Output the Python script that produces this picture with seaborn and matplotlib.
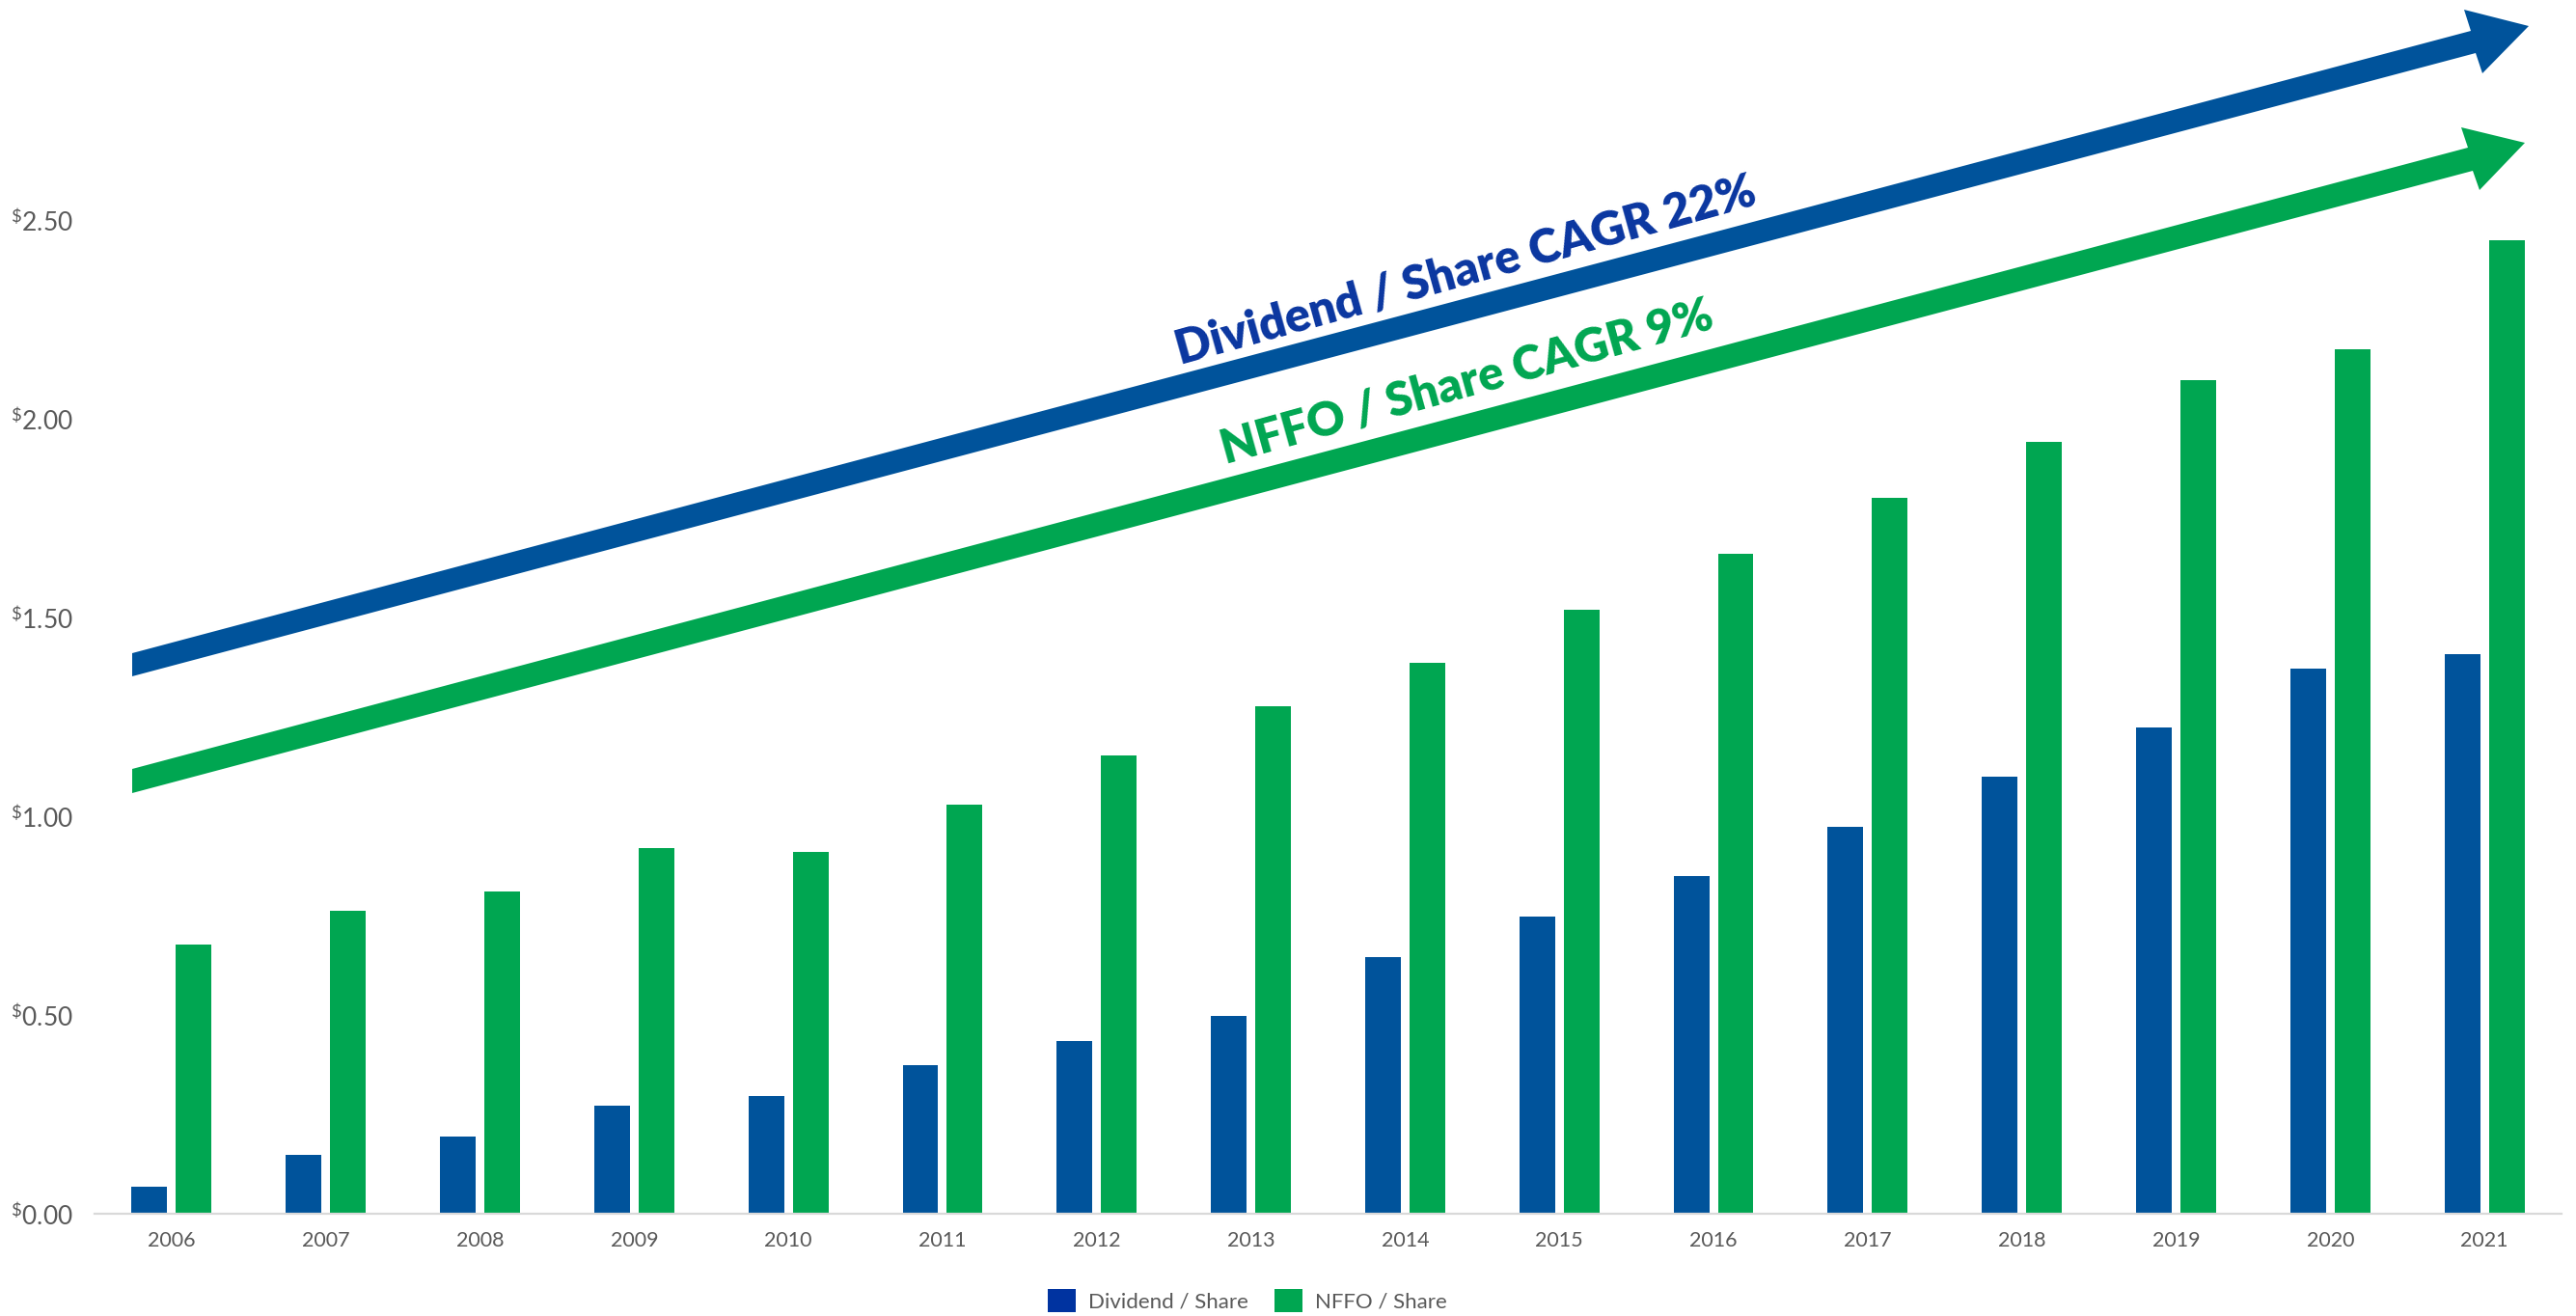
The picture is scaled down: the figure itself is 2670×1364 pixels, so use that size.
import matplotlib
matplotlib.use("Agg")
import matplotlib.pyplot as plt
import seaborn as sns
import pandas as pd
from matplotlib.patches import Polygon, Patch
from matplotlib.ticker import FuncFormatter, FixedLocator

# ---------------- data ----------------
years = ["2006", "2007", "2008", "2009", "2010", "2011", "2012", "2013",
         "2014", "2015", "2016", "2017", "2018", "2019", "2020", "2021"]
dividend_per_share = [0.068, 0.148, 0.194, 0.272, 0.296, 0.374, 0.434, 0.498,
                      0.646, 0.748, 0.850, 0.973, 1.100, 1.223, 1.371, 1.408]
nffo_per_share = [0.677, 0.762, 0.811, 0.920, 0.910, 1.029, 1.153, 1.277,
                  1.386, 1.519, 1.660, 1.801, 1.942, 2.097, 2.175, 2.449]
series_names = ["Dividend / Share", "NFFO / Share"]
y_ticks = [0.0, 0.5, 1.0, 1.5, 2.0, 2.5]
cagr_labels = ["Dividend / Share CAGR 22%", "NFFO / Share CAGR 9%"]

df = pd.DataFrame({
    "year": years * 2,
    "value": dividend_per_share + nffo_per_share,
    "series": [series_names[0]] * len(years) + [series_names[1]] * len(years),
})

# ---------------- style ----------------
BLUE = "#00539B"
GREEN = "#00A651"
DARK_BLUE = "#0A36A0"
GREY = "#595959"

sns.set_theme(style="white")
plt.rcParams["font.family"] = ["Lato", "DejaVu Sans"]
plt.rcParams["mathtext.default"] = "regular"

W, H = 2670, 1364
fig = plt.figure(figsize=(W / 100, H / 100), dpi=100)
ax = fig.add_axes([98 / W, 1 - 1258 / H, (2655 - 98) / W, 3.0 * 412 / H])

sns.barplot(data=df, x="year", y="value", hue="series", order=years,
            hue_order=series_names, palette=[BLUE, GREEN], saturation=1,
            width=0.575, gap=0.196, linewidth=0, errorbar=None, ax=ax,
            legend=False)

ax.set_xlim(-0.5, len(years) - 0.5)
ax.set_ylim(0, 3.0)
ax.set_xlabel("")
ax.set_ylabel("")
ax.yaxis.set_major_locator(FixedLocator(y_ticks))
ax.yaxis.set_major_formatter(FuncFormatter(lambda v, p: r"$^{\$}$" + f"{v:.2f}"))
ax.tick_params(axis="y", length=0, pad=16, labelsize=19, labelcolor=GREY)
ax.tick_params(axis="x", length=0, pad=13, labelsize=15.5, labelcolor=GREY)
for s in ["left", "right", "top"]:
    ax.spines[s].set_visible(False)
ax.spines["bottom"].set_color("#D9D9D9")
ax.spines["bottom"].set_linewidth(1.6)
ax.grid(False)

# ---------------- trend arrows (decoration, pixel geometry) ----------------
def px(points):
    return [(x / W, 1 - y / H) for x, y in points]

blue_arrow = [(137, 677), (2561, 32), (2554, 10), (2621, 27), (2573, 76),
              (2566, 55), (137, 701)]
green_arrow = [(137, 797), (2558, 153), (2551, 132), (2617, 148), (2570, 197),
               (2563, 177), (137, 822)]
fig.add_artist(Polygon(px(blue_arrow), closed=True, facecolor=BLUE,
                       edgecolor="none", transform=fig.transFigure, zorder=5))
fig.add_artist(Polygon(px(green_arrow), closed=True, facecolor=GREEN,
                       edgecolor="none", transform=fig.transFigure, zorder=5))

fig.text(1519 / W, 1 - 280 / H, cagr_labels[0], color=DARK_BLUE, fontsize=35,
         fontweight="heavy", rotation=15.5, rotation_mode="anchor",
         ha="center", va="center")
fig.text(1520 / W, 1 - 396 / H, cagr_labels[1], color=GREEN, fontsize=35,
         fontweight="heavy", rotation=15.5, rotation_mode="anchor",
         ha="center", va="center")

# ---------------- legend ----------------
handles = [Patch(facecolor="#0033A0", edgecolor="none"),
           Patch(facecolor=GREEN, edgecolor="none")]
fig.legend(handles, series_names, loc="center", ncol=2, frameon=False,
           bbox_to_anchor=(1293 / W, 1 - 1348 / H), fontsize=16,
           labelcolor=GREY, handlelength=1.3, handleheight=1.3,
           handletextpad=0.6, columnspacing=1.2, borderpad=0)

fig.savefig("out.png", dpi=100)
